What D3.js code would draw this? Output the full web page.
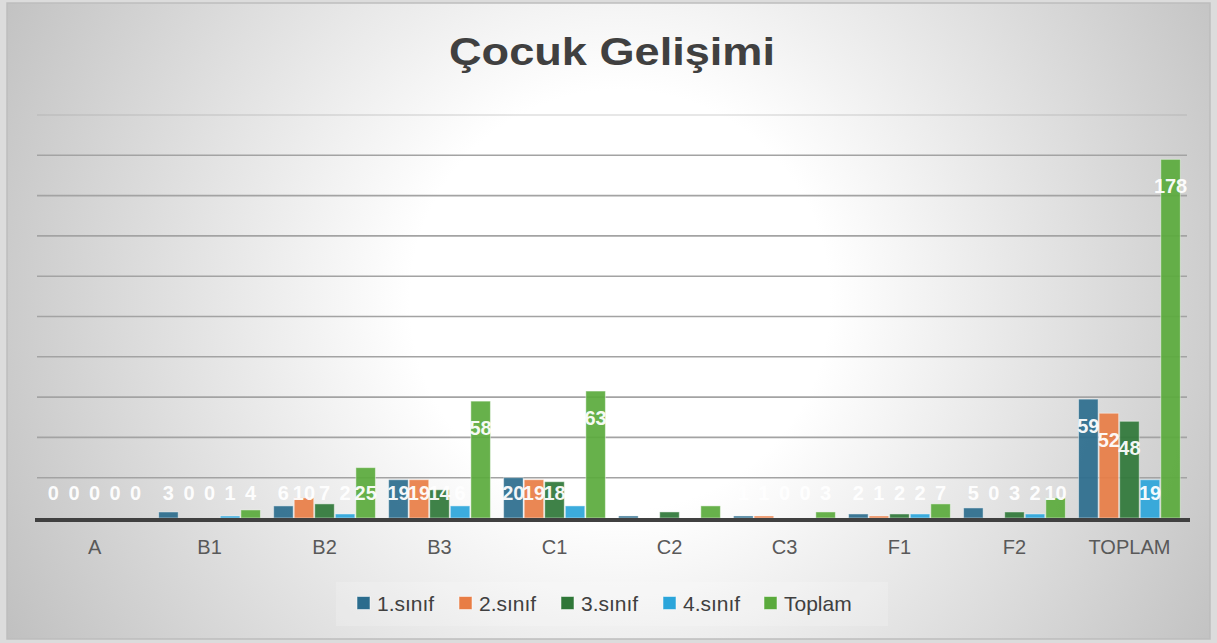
<!DOCTYPE html>
<html>
<head>
<meta charset="utf-8">
<script src="https://cdn.jsdelivr.net/npm/d3@7"></script>
<style>
  html, body { margin: 0; padding: 0; background: #d9d9d9; }
  svg { display: block; }
</style>
</head>
<body>
<svg id="chart" width="1217" height="643"></svg>
<script>
const categories = ["A", "B1", "B2", "B3", "C1", "C2", "C3", "F1", "F2", "TOPLAM"];
const seriesNames = ["1.sınıf", "2.sınıf", "3.sınıf", "4.sınıf", "Toplam"];
const sinif1 = [0, 3, 6, 19, 20, 1, 1, 2, 5, 59];
const sinif2 = [0, 0, 10, 19, 19, 0, 1, 1, 0, 52];
const sinif3 = [0, 0, 7, 14, 18, 3, 0, 2, 3, 48];
const sinif4 = [0, 1, 2, 6, 6, 0, 0, 2, 2, 19];
const toplam = [0, 4, 25, 58, 63, 6, 3, 7, 10, 178];
const yTicks = [0, 20, 40, 60, 80, 100, 120, 140, 160, 180, 200];
const colors = ["#2b6c8d", "#e87d45", "#2f7738", "#2ba5da", "#5aaa3c"];
const title = "Çocuk Gelişimi";

const seriesValues = [sinif1, sinif2, sinif3, sinif4, toplam];

const svg = d3.select("#chart");
const W = 1217, H = 643;

// background
const defs = svg.append("defs");
const rg = defs.append("radialGradient").attr("id", "bg")
  .attr("gradientUnits", "userSpaceOnUse")
  .attr("cx", 620).attr("cy", 300).attr("r", 700);
rg.append("stop").attr("offset", 0).attr("stop-color", "#ffffff");
rg.append("stop").attr("offset", 0.3).attr("stop-color", "#ffffff");
rg.append("stop").attr("offset", 1).attr("stop-color", "#c0c0c0");

svg.append("rect").attr("x", 0).attr("y", 0).attr("width", W).attr("height", H).attr("fill", "#dcdcdc");
svg.append("rect").attr("x", 7).attr("y", 3).attr("width", 1203).attr("height", 636)
  .attr("fill", "url(#bg)").attr("stroke", "#bdbdbd").attr("stroke-width", 1.5);

// title
svg.append("text")
  .attr("x", 612).attr("y", 65)
  .attr("text-anchor", "middle")
  .attr("font-family", "Liberation Sans, Arial, sans-serif")
  .attr("font-weight", "bold")
  .attr("font-size", 38)
  .attr("fill", "#404040")
  .attr("textLength", 326)
  .attr("lengthAdjust", "spacingAndGlyphs")
  .text(title);

// scales
const plotLeft = 37, plotRight = 1187, plotTop = 115, plotBottom = 518;
const x0 = d3.scaleBand().domain(categories).range([plotLeft, plotRight]).paddingInner(0.115).paddingOuter(0.058);
const x1 = d3.scaleBand().domain(seriesNames).range([0, x0.bandwidth()]).paddingInner(0.05);
const y = d3.scaleLinear().domain([0, 200]).range([plotBottom, plotTop]);

// gridlines
svg.append("g").selectAll("line").data(yTicks.filter(d => d > 0)).join("line")
  .attr("x1", plotLeft).attr("x2", plotRight)
  .attr("y1", d => y(d)).attr("y2", d => y(d))
  .attr("stroke", "#a3a3a3")
  .attr("stroke-opacity", d => d === 200 ? 0.35 : 1)
  .attr("stroke-width", 1.6);

// bars
const data = [];
categories.forEach((c, i) => {
  seriesNames.forEach((s, j) => {
    data.push({ cat: c, series: s, j: j, value: seriesValues[j][i] });
  });
});

svg.append("g").selectAll("rect").data(data).join("rect")
  .attr("x", d => x0(d.cat) + x1(d.series))
  .attr("width", x1.bandwidth())
  .attr("y", d => y(d.value))
  .attr("height", d => plotBottom - y(d.value))
  .attr("fill", d => colors[d.j])
  .attr("fill-opacity", 0.92)
  .attr("stroke", "#ffffff")
  .attr("stroke-opacity", 0.45)
  .attr("stroke-width", 1);

// axis line
const xAxis = d3.axisBottom(x0).tickSize(0).tickPadding(20);
const gx = svg.append("g").attr("transform", `translate(0,${plotBottom + 2})`).call(xAxis);
gx.select(".domain").attr("d", `M${plotLeft - 2},0H${plotRight + 3}`).attr("stroke", "#404040").attr("stroke-width", 4);
gx.selectAll("text")
  .attr("font-family", "Liberation Sans, Arial, sans-serif")
  .attr("font-size", 20)
  .attr("fill", "#595959")
  .attr("dy", "0.71em");

// data labels
svg.append("g").selectAll("text").data(data).join("text")
  .attr("x", d => x0(d.cat) + x1(d.series) + x1.bandwidth() / 2)
  .attr("y", d => Math.min(y(d.value) + 27, plotBottom - 25))
  .attr("text-anchor", "middle")
  .attr("dominant-baseline", "central")
  .attr("font-family", "Liberation Sans, Arial, sans-serif")
  .attr("font-weight", "bold")
  .attr("font-size", 20)
  .attr("fill", "#ffffff")
  .attr("fill-opacity", 0.95)
  .text(d => d.value);

// legend
const legendX = [357, 459, 561, 663, 764];
const lg = svg.append("g");
lg.append("rect").attr("x", 336).attr("y", 582).attr("width", 552).attr("height", 44)
  .attr("fill", "#ffffff").attr("fill-opacity", 0.18);
const items = lg.selectAll("g").data(seriesNames).join("g")
  .attr("transform", (d, i) => `translate(${legendX[i]},603)`);
items.append("rect").attr("x", 0).attr("y", -6.5).attr("width", 13).attr("height", 13)
  .attr("fill", (d, i) => colors[i]).attr("stroke", "#ffffff").attr("stroke-opacity", 0.5);
items.append("text").attr("x", 20).attr("y", 0)
  .attr("dominant-baseline", "central")
  .attr("font-family", "Liberation Sans, Arial, sans-serif")
  .attr("font-size", 21)
  .attr("fill", "#404040")
  .text(d => d);
</script>
</body>
</html>
